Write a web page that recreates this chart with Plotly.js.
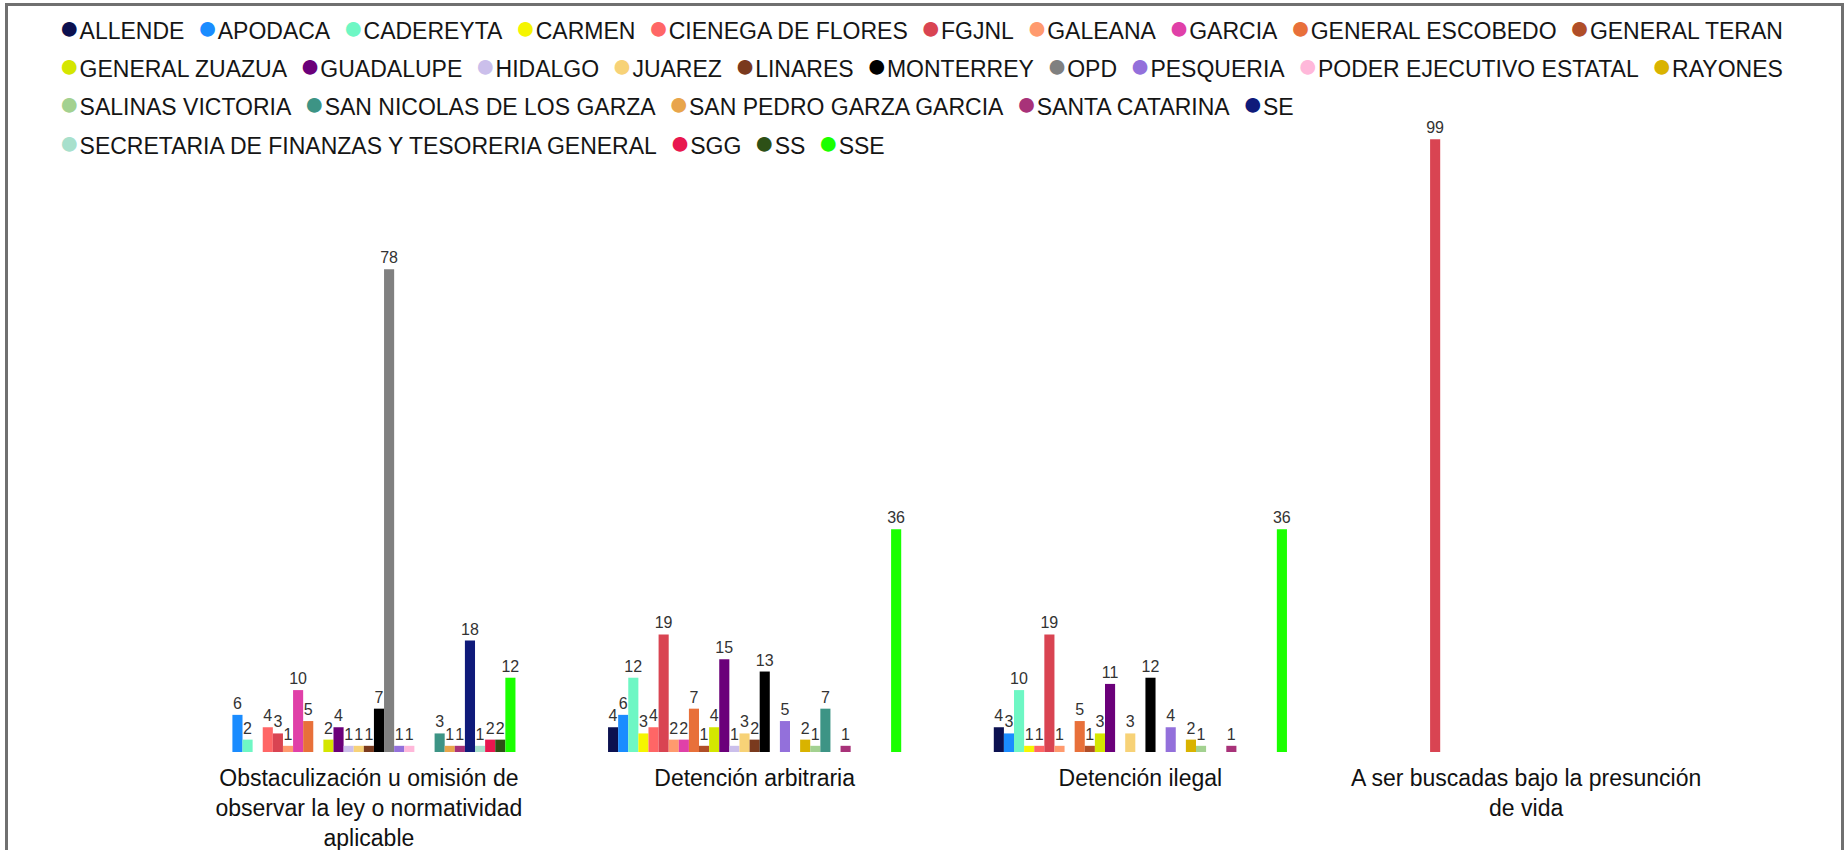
<!DOCTYPE html>
<html>
<head>
<meta charset="utf-8">
<script src="https://cdn.plot.ly/plotly-3.0.1.min.js"></script>
<style>
html,body{margin:0;padding:0;background:#fff;}
#chart{width:1847px;height:850px;position:absolute;left:0;top:0;}
#frame{position:absolute;left:5px;top:3px;width:1839px;height:900px;border:3px solid #707070;box-sizing:border-box;pointer-events:none;}
</style>
</head>
<body>
<div id="chart"></div>
<div id="frame"></div>
<script>
// ---- Data ----
const categories = [
  "Obstaculización u omisión de<br>observar la ley o normatividad<br>aplicable",
  "Detención arbitraria",
  "Detención ilegal",
  "A ser buscadas bajo la presunción<br>de vida"
];

const seriesNames = [
  "ALLENDE","APODACA","CADEREYTA","CARMEN","CIENEGA DE FLORES","FGJNL","GALEANA","GARCIA",
  "GENERAL ESCOBEDO","GENERAL TERAN","GENERAL ZUAZUA","GUADALUPE","HIDALGO","JUAREZ","LINARES",
  "MONTERREY","OPD","PESQUERIA","PODER EJECUTIVO ESTATAL","RAYONES","SALINAS VICTORIA",
  "SAN NICOLAS DE LOS GARZA","SAN PEDRO GARZA GARCIA","SANTA CATARINA","SE",
  "SECRETARIA DE FINANZAS Y TESORERIA GENERAL","SGG","SS","SSE"
];

const seriesColors = [
  "#0c1150","#1a8cff","#6ef7c4","#f5f500","#ff6666","#d94452","#ff9a6e","#e040a8",
  "#e8703a","#b04e28","#d4e600","#6b007a","#cbbfeb","#f7d277","#7a3a1e",
  "#000000","#808080","#9370db","#ffb8da","#d9b300","#a3d190",
  "#3d9485","#e8a54b","#a83279","#0f1a7a",
  "#a8e0cc","#e8174f","#2d5016","#1aff00"
];

// values per category, in series order
const obstaculizacion = [null,6,2,null,4,3,1,10,5,null,2,4,1,1,1,7,78,1,1,null,null,3,1,1,18,1,2,2,12];
const detencionArbitraria = [4,6,12,3,4,19,2,2,7,1,4,15,1,3,2,13,null,5,null,2,1,7,null,1,null,null,null,null,36];
const detencionIlegal = [4,3,10,1,1,19,1,null,5,1,3,11,null,3,null,12,null,4,null,2,1,null,null,1,null,null,null,null,36];
const buscadas = [null,null,null,null,null,99,null,null,null,null,null,null,null,null,null,null,null,null,null,null,null,null,null,null,null,null,null,null,null];

const valuesByCategory = [obstaculizacion, detencionArbitraria, detencionIlegal, buscadas];

// ---- Layout constants ----
const W = 1847, H = 850;
const M = {l:176, r:128, t:133, b:98};
const plotW = W - M.l - M.r, plotH = H - M.t - M.b;
const FONT = "Liberation Sans, Arial, Helvetica, sans-serif";

const traces = seriesNames.map((name, i) => ({
  type: "bar",
  name: name,
  x: categories,
  y: valuesByCategory.map(v => v[i]),
  marker: {color: seriesColors[i]},
  texttemplate: "%{y}",
  textposition: "outside",
  constraintext: "none",
  cliponaxis: false,
  textfont: {family: FONT, size: 16, color: "#333333"},
  hoverinfo: "name+y",
  showlegend: false
}));

// custom legend rows (round markers, wrapped like the reference)
const legendRowSizes = [10, 10, 5, 4];
const legendRowY = [27, 65, 103, 142];
const legendX = 57;
const annotations = [];
let idx = 0;
legendRowSizes.forEach((n, r) => {
  const parts = [];
  for (let k = 0; k < n; k++) {
    const i = idx++;
    parts.push('<span style="color:' + seriesColors[i] + ';font-size:34px">●</span>' + seriesNames[i]);
  }
  annotations.push({
    xref: "paper", yref: "paper",
    x: (legendX - M.l) / plotW,
    y: (H - M.b - legendRowY[r]) / plotH,
    xanchor: "left", yanchor: "middle",
    showarrow: false,
    align: "left",
    text: parts.join("\u00a0\u00a0"),
    font: {family: FONT, size: 23, color: "#151515"}
  });
});

const layout = {
  width: W, height: H,
  margin: M,
  paper_bgcolor: "#ffffff",
  plot_bgcolor: "#ffffff",
  barmode: "group",
  bargap: 0.24,
  bargroupgap: 0,
  showlegend: false,
  font: {family: FONT, color: "#222"},
  xaxis: {
    type: "category",
    showline: false, showgrid: false, zeroline: false,
    ticks: "",
    tickfont: {family: FONT, size: 23, color: "#111111"},
    ticklabelstandoff: 10
  },
  yaxis: {
    range: [0, 100],
    visible: false,
    showgrid: false, zeroline: false
  },
  annotations: annotations
};

Plotly.newPlot("chart", traces, layout, {displayModeBar: false, staticPlot: true});
</script>
</body>
</html>
